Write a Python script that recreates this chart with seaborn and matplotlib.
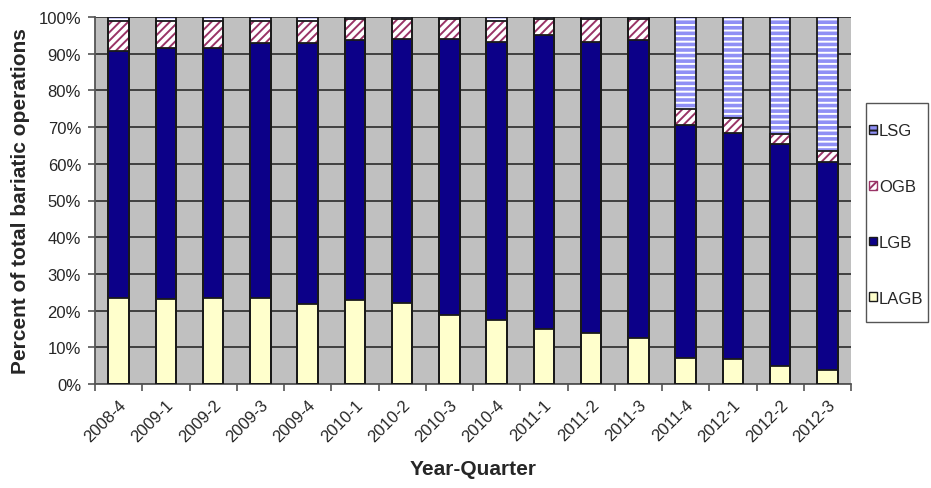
import matplotlib
matplotlib.use("Agg")
import matplotlib.pyplot as plt
import seaborn as sns
import pandas as pd
import numpy as np
from matplotlib.patches import Patch, Rectangle
from matplotlib.ticker import FixedLocator, PercentFormatter

quarters = ["2008-4", "2009-1", "2009-2", "2009-3", "2009-4", "2010-1", "2010-2",
            "2010-3", "2010-4", "2011-1", "2011-2", "2011-3", "2011-4", "2012-1",
            "2012-2", "2012-3"]
LAGB = [23.5, 23.2, 23.4, 23.5, 21.9, 22.8, 22.0, 18.9, 17.4, 14.9, 13.8, 12.5, 7.1, 6.8, 5.0, 3.9]
LGB = [67.1, 68.3, 68.1, 69.5, 71.1, 70.9, 72.1, 75.1, 75.9, 80.1, 79.5, 81.2, 63.4, 61.7, 60.5, 56.6]
OGB = [8.4, 7.5, 7.5, 6.0, 6.0, 5.8, 5.4, 5.5, 5.7, 4.5, 6.2, 5.8, 4.5, 4.0, 2.5, 3.0]
LSG = [1.0, 1.0, 1.0, 1.0, 1.0, 0.5, 0.5, 0.5, 1.0, 0.5, 0.5, 0.5, 25.0, 27.5, 32.0, 36.5]

sns.set_theme(style="white")
plt.rcParams['font.family'] = ['Liberation Sans', 'DejaVu Sans']
plt.rcParams['hatch.linewidth'] = 1.4

df = pd.DataFrame({"q": quarters, "LAGB": LAGB, "LGB": LGB, "OGB": OGB, "LSG": LSG})
df["c_LAGB"] = df["LAGB"]
df["c_LGB"] = df["c_LAGB"] + df["LGB"]
df["c_OGB"] = df["c_LGB"] + df["OGB"]
df["c_LSG"] = df["c_OGB"] + df["LSG"]

W, H = 931, 489
fig = plt.figure(figsize=(W / 100, H / 100), dpi=100)
ax = fig.add_axes([95 / W, 1 - 385 / H, (851 - 95) / W, (385 - 18) / H])
ax.set_facecolor("#c0c0c0")

layers = [
    ("c_LSG", "#8f8ff5", "#ffffff", "---"),
    ("c_OGB", "#ffffff", "#993366", "////"),
    ("c_LGB", "#0c0088", "#0c0088", None),
    ("c_LAGB", "#ffffcc", "#ffffcc", None),
]
z = 3
for col, face, hcol, hatch in layers:
    n0 = len(ax.patches)
    sns.barplot(data=df, x="q", y=col, color=face, width=0.43, ax=ax,
                saturation=1, edgecolor=hcol, linewidth=0, zorder=z)
    for p in ax.patches[n0:]:
        p.set_facecolor(face)
        p.set_edgecolor(hcol)
        if hatch:
            p.set_hatch(hatch)
    z += 1
for col, face, hcol, hatch in layers:
    sns.barplot(data=df, x="q", y=col, width=0.43, ax=ax, fill=False,
                edgecolor="#1a1a1a", linewidth=1.3, zorder=10)

ax.set_ylim(0, 100)
ax.set_xlim(-0.5, len(quarters) - 0.5)
ax.set_yticks(np.arange(0, 101, 10))
ax.yaxis.set_major_formatter(PercentFormatter(decimals=0))
ax.grid(axis="y", color="#404040", linewidth=1.4, zorder=1)
ax.set_axisbelow(True)
for s in ["top", "right"]:
    ax.spines[s].set_visible(False)
for s in ["left", "bottom"]:
    ax.spines[s].set_color("#555555")
    ax.spines[s].set_linewidth(1.3)

ax.set_xticks(range(len(quarters)))
ax.set_xticklabels(quarters, rotation=45, ha="right", rotation_mode="anchor", fontsize=12)
ax.tick_params(axis="x", which="major", length=0, pad=9)
ax.xaxis.set_minor_locator(FixedLocator(np.arange(-0.5, len(quarters), 1)))
ax.tick_params(axis="x", which="minor", length=5, color="#555555", width=1.2, bottom=True)
ax.tick_params(axis="y", length=5, color="#555555", width=1.2, left=True, labelsize=12, pad=5)

ax.set_xlabel("Year-Quarter", fontsize=15, fontweight="bold", labelpad=11)
ax.set_ylabel("Percent of total bariatic operations", fontsize=15, fontweight="bold", labelpad=6)

# legend frame
fig.patches.append(Rectangle((866 / W, 1 - 323 / H), (928 - 866) / W, (323 - 104) / H,
                             transform=fig.transFigure, facecolor="white",
                             edgecolor="#555555", linewidth=1.0, zorder=0))
handles = [
    Patch(facecolor="#8f8ff5", edgecolor="#1a1a1a", hatch="---", label="LSG"),
    Patch(facecolor="#ffffff", edgecolor="#993366", hatch="////", label="OGB"),
    Patch(facecolor="#0c0088", edgecolor="#1a1a1a", label="LGB"),
    Patch(facecolor="#ffffcc", edgecolor="#1a1a1a", label="LAGB"),
]
leg = fig.legend(handles=handles, loc="center left", bbox_to_anchor=(869 / W, 1 - 215.5 / H),
                 frameon=False, fontsize=12, handlelength=0.45, handleheight=0.45,
                 handletextpad=0.15, labelspacing=2.45, borderpad=0, borderaxespad=0)

fig.savefig("out.png", dpi=100)
